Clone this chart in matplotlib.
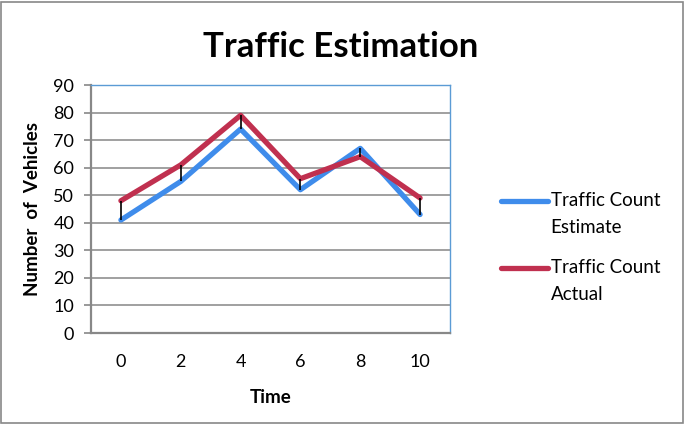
import matplotlib
matplotlib.use("Agg")
import matplotlib.pyplot as plt
from matplotlib.patches import Rectangle
from matplotlib.legend_handler import HandlerLine2D

time_labels = ["0", "2", "4", "6", "8", "10"]
estimate = [41, 55, 74, 52, 67, 43]
actual = [48, 61, 79, 56, 64, 49]

plt.rcParams['font.family'] = ['Lato', 'DejaVu Sans']


class TopLineHandler(HandlerLine2D):
    def create_artists(self, legend, orig_handle, xdescent, ydescent, width, height, fontsize, trans):
        arts = super().create_artists(legend, orig_handle, xdescent, ydescent, width, height, fontsize, trans)
        for a in arts:
            yd = a.get_ydata()
            a.set_ydata([v + 0.72 * fontsize for v in yd])
        return arts


fig = plt.figure(figsize=(6.85, 4.24), dpi=100)
ax = fig.add_axes([91/685, 1 - 333/424, 359/685, 248/424])

x = list(range(len(time_labels)))
ax.vlines(x, estimate, actual, colors='black', linewidth=1.2, zorder=3)
ax.plot(x, estimate, color='#3F8CEB', linewidth=3.8, label='Traffic Count\nEstimate', zorder=2, solid_capstyle='round')
ax.plot(x, actual, color='#C0304F', linewidth=3.8, label='Traffic Count\nActual', zorder=2, solid_capstyle='round')

ax.set_xlim(-0.5, len(time_labels) - 0.5)
ax.set_ylim(0, 90)
ax.set_yticks(range(0, 91, 10))
ax.set_xticks(x)
ax.set_xticklabels(time_labels)
ax.tick_params(axis='x', length=0, labelsize=13, pad=15)
ax.tick_params(axis='y', length=5, width=1.2, color='#888888', labelsize=13, pad=7)
ax.grid(axis='y', color='#999999', linewidth=1.3)
ax.set_axisbelow(True)
for s in ['left', 'bottom']:
    ax.spines[s].set_color('#888888')
    ax.spines[s].set_linewidth(1.6)
for s in ['top', 'right']:
    ax.spines[s].set_color('#5B9BD5')
    ax.spines[s].set_linewidth(1.0)

ax.set_xlabel('Time', fontsize=13.5, fontweight='bold', labelpad=14)
ax.set_ylabel('Number  of  Vehicles', fontsize=13.5, fontweight='bold', labelpad=9)
fig.text(0.497, 0.888, 'Traffic Estimation', ha='center', va='center', fontsize=25, fontweight='bold')

leg = ax.legend(loc='center left', bbox_to_anchor=(1.095, 0.345), frameon=False, fontsize=13.5,
                handlelength=2.5, handletextpad=0.15, labelspacing=1.25,
                handler_map={plt.Line2D: TopLineHandler()})
for t in leg.get_texts():
    t.set_linespacing(1.7)

fig.patches.append(Rectangle((0.002, 0.003), 0.995, 0.993, transform=fig.transFigure,
                             fill=False, edgecolor='#888888', linewidth=1.2))
fig.savefig('out.png', dpi=100)
